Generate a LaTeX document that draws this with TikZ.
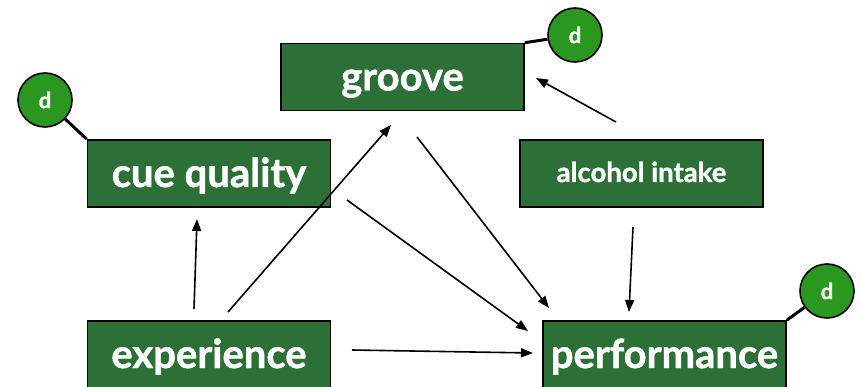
\documentclass[tikz,border=0pt]{standalone}
\usepackage{fontspec}
\setmainfont{Lato}[BoldFeatures={FakeBold=1.2}]
\usetikzlibrary{arrows.meta}
\definecolor{boxgreen}{RGB}{44,112,56}
\definecolor{dotgreen}{RGB}{42,152,32}
\begin{document}
\begin{tikzpicture}[x=1pt,y=-1pt,
  varbox/.style={draw=black, line width=1.6pt, fill=boxgreen, text=white,
    minimum width=243pt, minimum height=67pt, inner sep=0pt,
    text height=27pt, text depth=0pt,
    font=\fontsize{40}{43}\selectfont\bfseries},
  smallbox/.style={varbox, text height=17pt, text depth=0pt,
    font=\fontsize{27.5}{30}\selectfont\bfseries},
  errdot/.style={circle, draw=black, line width=1.6pt, fill=dotgreen, text=white,
    minimum size=54pt, inner sep=0pt, font=\fontsize{22}{24}\selectfont\bfseries},
  errlink/.style={line width=3pt, black},
  path/.style={line width=1.6pt, black, -{Triangle[length=12pt,width=9pt]}}]
\useasboundingbox (0,0) rectangle (861,387);

% variables
\node[varbox] (grv) at (402.5,77) {groove};
\node[varbox] (cue) at (209,173.5) {cue quality};
\node[smallbox] (alc) at (641.5,173.5) {alcohol intake};
\node[varbox] (exp) at (209,354.5) {experience};
\node[varbox] (perf) at (664.5,354.5) {performance};

% disturbance terms
\node[errdot] (dc) at (45,100) {d};
\node[errdot] (dg) at (575,35) {d};
\node[errdot] (dp) at (827,291) {d};
\draw[errlink] (dc) -- (cue.north west);
\draw[errlink] (dg) -- (grv.north east);
\draw[errlink] (dp) -- (perf.north east);

% arrow end points
\coordinate (e1) at (194,309);  \coordinate (c1) at (197,219);
\coordinate (e2) at (228,312);  \coordinate (g1) at (391,125);
\coordinate (c2) at (347,200);  \coordinate (p1) at (528,331);
\coordinate (g2) at (417,137);  \coordinate (p2) at (549,308);
\coordinate (a1) at (633,227);  \coordinate (p3) at (629,312);
\coordinate (a2) at (616,122);  \coordinate (g3) at (536,78);
\coordinate (e3) at (352,350);  \coordinate (p4) at (533,353);

% paths
\draw[path] (e1) -- (c1);
\draw[path] (e2) -- (g1);
\draw[path] (c2) -- (p1);
\draw[path] (g2) -- (p2);
\draw[path] (a1) -- (p3);
\draw[path] (a2) -- (g3);
\draw[path] (e3) -- (p4);
\end{tikzpicture}
\end{document}
